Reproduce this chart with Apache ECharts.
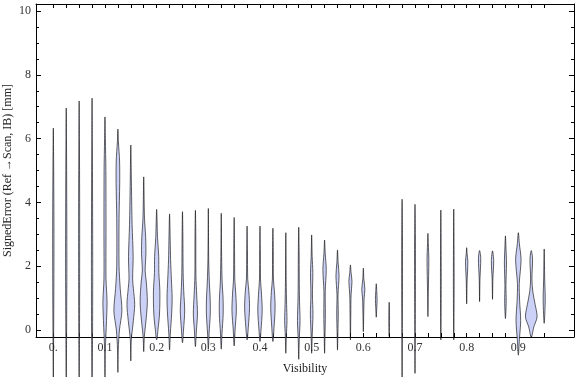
<!DOCTYPE html>
<html>
<head>
<meta charset="utf-8">
<script src="https://cdn.jsdelivr.net/npm/echarts@6/dist/echarts.min.js"></script>
<style>
  html, body { margin: 0; padding: 0; background: #fff; }
  #chart { width: 576px; height: 377px; }
</style>
</head>
<body>
<div id="chart"></div>
<script>
// x positions of the violins (visibility bins)
var visibility = [0, 0.025, 0.05, 0.075, 0.1, 0.125, 0.15, 0.175, 0.2, 0.225,
  0.25, 0.275, 0.3, 0.325, 0.35, 0.375, 0.4, 0.425, 0.45, 0.475,
  0.5, 0.525, 0.55, 0.575, 0.6, 0.625, 0.65, 0.675, 0.7, 0.725,
  0.75, 0.775, 0.8, 0.825, 0.85, 0.875, 0.9, 0.925, 0.95];

// density profile of each violin: [signed error, relative density]
var profiles = [
  [[-1.6,0],[-0.5,0.02],[1,0.04],[3,0.05],[5,0.03],[6.33,0]],
  [[-1.6,0],[0,0.03],[2,0.05],[4,0.04],[6,0.02],[6.96,0]],
  [[-1.6,0],[0,0.03],[2,0.04],[4,0.04],[6,0.02],[7.18,0]],
  [[-1.6,0],[0,0.04],[2,0.05],[4,0.04],[6,0.02],[7.27,0]],
  [[-1.6,0],[-0.6,0.03],[0.3,0.12],[0.9,0.16],[1.6,0.08],[3,0.08],[5,0.07],[6,0.03],[6.68,0]],
  [[-1.33,0],[-0.6,0.03],[0,0.12],[0.6,0.31],[1.3,0.18],[2,0.09],[3.5,0.09],[4.6,0.14],[5.3,0.13],[5.9,0.04],[6.3,0]],
  [[-0.97,0],[-0.3,0.04],[0.3,0.2],[0.8,0.3],[1.3,0.2],[1.6,0.14],[2.3,0.18],[3.3,0.1],[4.5,0.05],[5.8,0]],
  [[-0.68,0],[-0.2,0.05],[0.4,0.2],[0.9,0.28],[1.5,0.2],[1.85,0.11],[2.4,0.17],[2.9,0.15],[3.5,0.06],[4.8,0]],
  [[-0.31,0],[0,0.1],[0.5,0.22],[1.2,0.25],[1.8,0.17],[2.3,0.16],[2.9,0.07],[3.78,0]],
  [[-0.63,0],[-0.1,0.06],[0.5,0.16],[1.0,0.2],[1.6,0.14],[2.2,0.08],[2.8,0.05],[3.64,0]],
  [[-0.4,0],[0,0.08],[0.6,0.17],[1.2,0.1],[1.8,0.05],[3,0.03],[3.71,0]],
  [[-0.52,0],[0,0.08],[0.5,0.16],[1.1,0.1],[1.7,0.04],[3,0.03],[3.75,0]],
  [[-0.6,0],[-0.1,0.06],[0.5,0.15],[1.0,0.14],[1.5,0.08],[2.2,0.03],[3.81,0]],
  [[-0.6,0],[-0.1,0.06],[0.5,0.15],[1.0,0.14],[1.5,0.07],[2.3,0.03],[3.66,0]],
  [[-0.5,0],[0,0.07],[0.6,0.17],[1.1,0.13],[1.6,0.05],[2.5,0.03],[3.53,0]],
  [[-0.31,0],[0.1,0.1],[0.7,0.19],[1.2,0.14],[1.6,0.05],[2.5,0.03],[3.26,0]],
  [[-0.36,0],[0,0.08],[0.6,0.17],[1.1,0.12],[1.6,0.04],[2.5,0.03],[3.26,0]],
  [[-0.36,0],[0.1,0.09],[0.7,0.17],[1.2,0.12],[1.6,0.04],[2.5,0.03],[3.19,0]],
  [[-0.73,0],[-0.2,0.04],[0.3,0.09],[0.8,0.06],[1.5,0.03],[3.05,0]],
  [[-0.92,0],[-0.3,0.04],[0.3,0.1],[0.9,0.06],[1.6,0.04],[2.5,0.03],[3.22,0]],
  [[-0.73,0],[-0.2,0.04],[0.5,0.1],[1.1,0.06],[1.8,0.09],[2.3,0.04],[2.98,0]],
  [[-0.73,0],[-0.2,0.03],[0.5,0.06],[1.2,0.05],[1.9,0.13],[2.4,0.05],[2.82,0]],
  [[-0.63,0],[-0.1,0.03],[0.5,0.06],[1.1,0.04],[1.7,0.12],[2.1,0.05],[2.51,0]],
  [[-0.31,0],[0.5,0.03],[1.1,0.05],[1.52,0.12],[1.8,0.05],[2.04,0]],
  [[-0.05,0],[0.5,0.03],[1.0,0.06],[1.27,0.12],[1.6,0.04],[1.94,0]],
  [[0.4,0],[0.7,0.04],[0.95,0.065],[1.2,0.04],[1.45,0]],
  [[-0.2,0],[0.3,0.03],[0.87,0]],
  [[-1.6,0],[1,0.03],[3,0.03],[4.1,0]],
  [[-1.36,0],[1,0.03],[3,0.03],[3.94,0]],
  [[0.42,0],[1.2,0.03],[2.2,0.07],[2.7,0.03],[3.03,0]],
  [[-0.31,0],[1.5,0.03],[3.76,0]],
  [[-0.31,0],[1.5,0.03],[3.79,0]],
  [[0.82,0],[1.5,0.03],[2.14,0.09],[2.4,0.03],[2.58,0]],
  [[0.89,0],[1.6,0.03],[2.25,0.09],[2.49,0]],
  [[0.96,0],[1.6,0.03],[2.17,0.09],[2.48,0]],
  [[0.36,0],[0.9,0.06],[1.4,0.04],[2.1,0.08],[2.6,0.04],[2.95,0]],
  [[-0.79,0],[-0.3,0.08],[0.3,0.18],[0.9,0.1],[1.45,0.07],[2.2,0.21],[2.7,0.08],[3.05,0]],
  [[-0.23,0],[0.1,0.2],[0.41,0.45],[0.8,0.3],[1.2,0.12],[1.6,0.05],[2.22,0.1],[2.49,0]],
  [[0.21,0],[0.94,0.08],[1.6,0.04],[2.54,0]]
];

var xLabelValues = [0, 0.1, 0.2, 0.3, 0.4, 0.5, 0.6, 0.7, 0.8, 0.9];
var yLabelValues = [0, 2, 4, 6, 8, 10];
var yMinorValues = [0.5, 1, 1.5, 2.5, 3, 3.5, 4.5, 5, 5.5, 6.5, 7, 7.5, 8.5, 9, 9.5];

var binStep = 0.025;
var serif = 'Liberation Serif';
var frame = { onZero: false, lineStyle: { color: '#000', width: 1 } };

var myChart = echarts.init(document.getElementById('chart'));

function renderViolin(params, api) {
  var i = params.dataIndex;
  var vx = visibility[i];
  var knots = profiles[i];
  var right = [], left = [];
  knots.forEach(function (k) {
    right.push(api.coord([vx + k[1] * binStep, k[0]]));
  });
  for (var j = knots.length - 1; j >= 0; j--) {
    left.push(api.coord([vx - knots[j][1] * binStep, knots[j][0]]));
  }
  return {
    type: 'polygon',
    shape: { points: right.concat(left.slice(1, -1)), smooth: 0.3 },
    style: {
      fill: 'rgb(204,210,247)',
      stroke: 'rgba(0,0,0,0.6)',
      lineWidth: 1
    }
  };
}

var option = {
  animation: false,
  grid: { left: 36, right: 2, top: 4, bottom: 40, outerBoundsMode: 'none' },
  xAxis: [
    {
      type: 'value', min: -0.0335, max: 1.0077, position: 'bottom',
      name: 'Visibility', nameLocation: 'middle', nameGap: 26, nameMoveOverlap: false,
      nameTextStyle: { fontFamily: serif, fontSize: 12, color: '#222' },
      axisLine: frame,
      axisTick: { inside: true, length: 4, customValues: visibility, lineStyle: { color: '#000' } },
      axisLabel: {
        customValues: xLabelValues, fontFamily: serif, fontSize: 12, color: '#333', margin: 5,
        formatter: function (v) { return v === 0 ? '0.' : v.toFixed(1); }
      },
      splitLine: { show: false }
    },
    {
      type: 'value', min: -0.0335, max: 1.0077, position: 'top',
      axisLine: frame,
      axisTick: { inside: true, length: 4, customValues: visibility, lineStyle: { color: '#000' } },
      axisLabel: { show: false },
      splitLine: { show: false }
    }
  ],
  yAxis: [
    {
      type: 'value', min: -0.22, max: 10.22, position: 'left',
      name: 'SignedError (Ref \u2192Scan, IB) [mm]', nameLocation: 'middle', nameGap: 22, nameMoveOverlap: false,
      nameTextStyle: { fontFamily: serif, fontSize: 12, color: '#222' },
      axisLine: frame,
      axisTick: { inside: true, length: 5, customValues: yLabelValues, lineStyle: { color: '#000' } },
      axisLabel: { customValues: yLabelValues, fontFamily: serif, fontSize: 12, color: '#333', margin: 5 },
      splitLine: { show: false }
    },
    {
      type: 'value', min: -0.22, max: 10.22, position: 'left',
      axisLine: { show: false, onZero: false },
      axisTick: { inside: true, length: 3, customValues: yMinorValues, lineStyle: { color: '#000' } },
      axisLabel: { show: false },
      splitLine: { show: false }
    },
    {
      type: 'value', min: -0.22, max: 10.22, position: 'right',
      axisLine: frame,
      axisTick: { inside: true, length: 5, customValues: yLabelValues, lineStyle: { color: '#000' } },
      axisLabel: { show: false },
      splitLine: { show: false }
    },
    {
      type: 'value', min: -0.22, max: 10.22, position: 'right',
      axisLine: { show: false, onZero: false },
      axisTick: { inside: true, length: 3, customValues: yMinorValues, lineStyle: { color: '#000' } },
      axisLabel: { show: false },
      splitLine: { show: false }
    }
  ],
  series: [
    {
      type: 'custom',
      clip: false,
      xAxisIndex: 0,
      yAxisIndex: 0,
      renderItem: renderViolin,
      data: visibility.map(function (v, i) { return [v, profiles[i][profiles[i].length - 1][0]]; })
    }
  ]
};

myChart.setOption(option);
</script>
</body>
</html>
